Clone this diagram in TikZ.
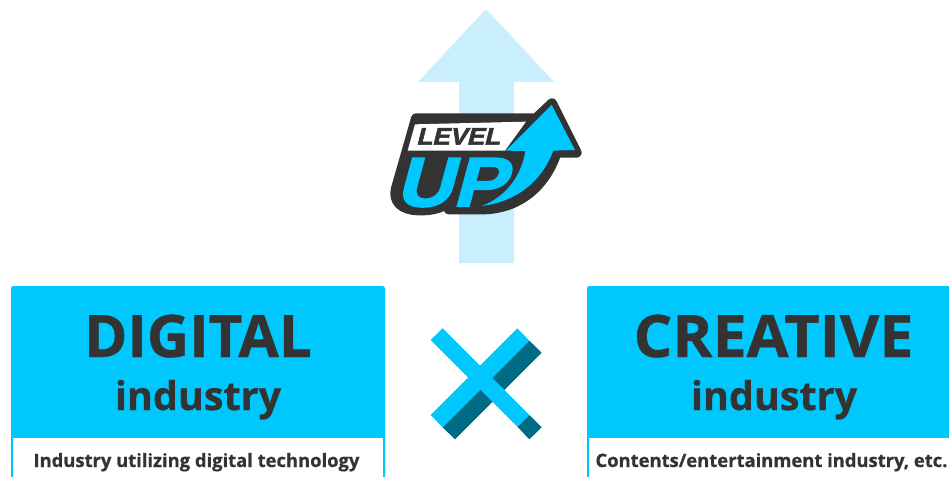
\documentclass[tikz,border=0pt]{standalone}
\usepackage{fontspec}
\setmainfont[BoldFeatures={FakeBold=0.7}]{Open Sans}
\newfontfamily\logofontA[FakeBold=2.4]{Liberation Sans Bold}
\newfontfamily\logofontB[FakeBold=2.2]{Liberation Sans Bold}
\definecolor{cyanmain}{HTML}{00C8FF}
\definecolor{paleblue}{HTML}{C9EEFE}
\definecolor{inkdark}{HTML}{333333}
\definecolor{teal}{HTML}{006B86}
\tikzset{
  panelfill/.style={fill=cyanmain,rounded corners=2.5pt},
  title/.style={text=inkdark,font=\fontsize{58.5}{60}\selectfont\bfseries,inner sep=0pt,anchor=base},
  subtitle/.style={text=inkdark,font=\fontsize{39.5}{42}\selectfont\bfseries,inner sep=0pt,anchor=base},
  caption/.style={text=inkdark,font=\fontsize{18.4}{21}\selectfont\bfseries,inner sep=0pt,anchor=base},
  logoline/.style={draw=inkdark,fill=inkdark,line width=10pt,line join=round},
}
\begin{document}
\begin{tikzpicture}[x=1pt,y=-1pt]
\useasboundingbox (0,0) rectangle (949,476);
% big arrow
\fill[paleblue] (486,9) -- (554,82) -- (514,82) -- (514,263) -- (459,263) -- (459,82) -- (418,82) -- cycle;
% panels
\begin{scope}
\clip (0,0) rectangle (949,476);
\fill[panelfill] (11,286) rectangle (385,500);
\fill[white] (13,438) rectangle (383,500);
\fill[panelfill] (587,286) rectangle (980,500);
\fill[white] (589,438) rectangle (980,500);
\end{scope}
\node[title] (digital) at (198,357) {DIGITAL};
\node[subtitle] (digitalsub) at (198,410) {industry};
\node[caption] (digitalcap) at (196.5,467) {Industry utilizing digital technology};
\node[title,xscale=1.04] (creative) at (773.5,357) {CREATIVE};
\node[subtitle] (creativesub) at (774,410) {industry};
\node[caption] (creativecap) at (771.5,467) {Contents/entertainment industry, etc.};
% cross
\begin{scope}[shift={(410,310)},x=.3333pt,y=-.3333pt]
\fill[teal] (358,92) -- (395,128) -- (135,388) -- (98,352) -- cycle;
\fill[teal] (358,315) -- (322,350) -- (358,388) -- (395,352) -- cycle;
\fill[cyanmain] (322,55) -- (62,315) -- (98,352) -- (358,92) -- cycle;
\fill[cyanmain] (98,55) -- (62,90) -- (322,350) -- (358,315) -- cycle;
\end{scope}
% logo
\begin{scope}[shift={(370,80)},x=.3333pt,y=-.3333pt]
\path[logoline] (138,115) -- (498,115) -- (546,70) -- (620,218) -- (560,218)
  .. controls (525,320) and (450,383) .. (345,388) -- (236,388) -- (230,372)
  .. controls (205,388) and (175,392) .. (145,391)
  .. controls (95,390) and (68,365) .. (78,325) -- cycle;
\fill[white] (135,133) -- (468,125) -- (405,212) -- (113,212) -- cycle;
\fill[cyanmain] (545,75) -- (615,210) -- (550,212)
  .. controls (515,305) and (440,365) .. (335,378)
  .. controls (410,350) and (455,285) .. (466,213) -- (408,212) -- cycle;
\node[text=inkdark,inner sep=0pt,anchor=base,xslant=.25,xscale=1.08,font=\logofontA\fontsize{24}{24}\selectfont] (level) at (264,194) {LEVEL};
\node[text=cyanmain,inner sep=0pt,anchor=base,xslant=.27,xscale=1.13,font=\logofontB\fontsize{70}{70}\selectfont] (up) at (240,379) {UP};
\end{scope}
\end{tikzpicture}
\end{document}
